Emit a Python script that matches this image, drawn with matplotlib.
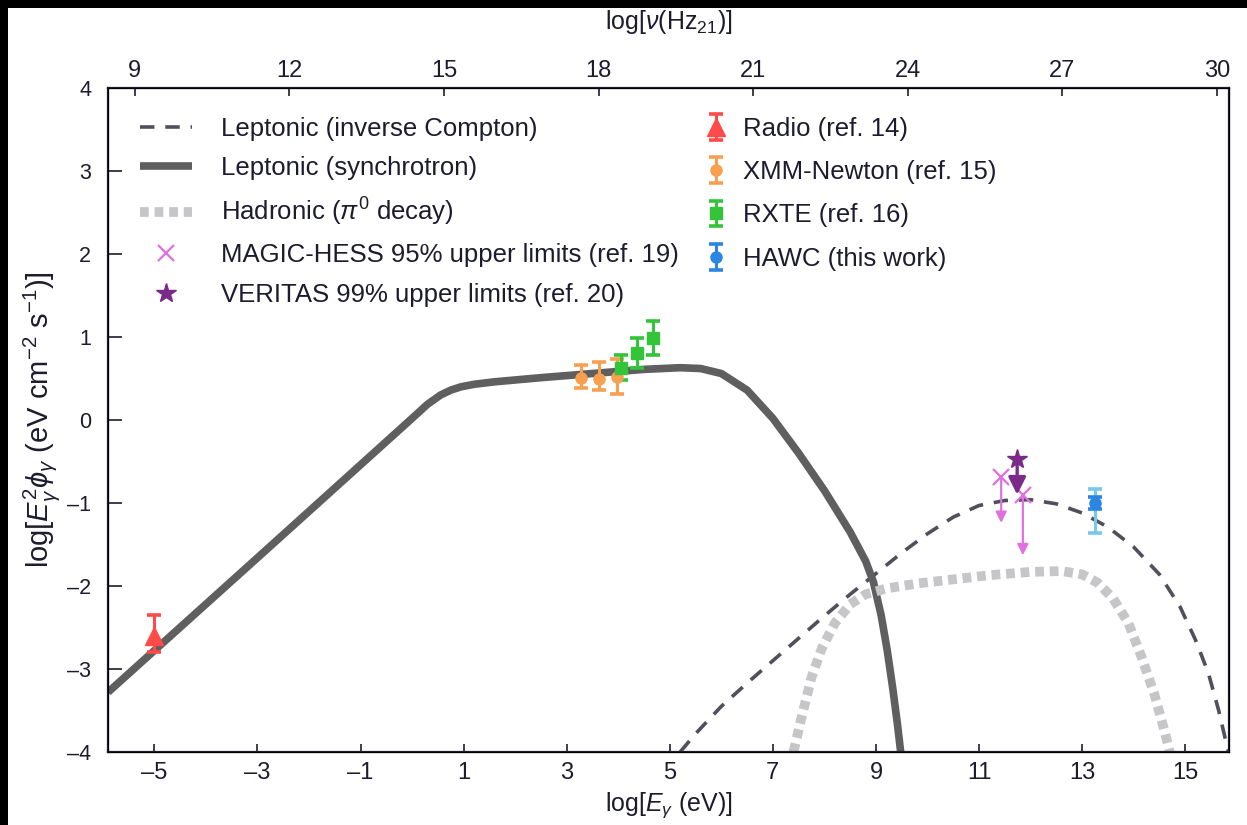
import matplotlib.pyplot as plt
from matplotlib.patches import Rectangle

plt.rcParams['font.family'] = ['Liberation Sans', 'DejaVu Sans']
plt.rcParams['mathtext.fontset'] = 'custom'
plt.rcParams['mathtext.rm'] = 'Liberation Sans'
plt.rcParams['mathtext.it'] = 'Liberation Sans:italic'

# --- modelos ---
sync_x = [-5.9, -3.0, 0.0, 0.3, 0.55, 0.75, 0.95, 1.2, 1.6, 2.5, 3.5, 4.5, 5.2, 5.6, 6.0, 6.5,
          7.0, 7.5, 8.0, 8.5, 8.8, 8.95, 9.1, 9.22, 9.33, 9.42, 9.48]
sync_y = [-3.28, -1.66, 0.02, 0.19, 0.30, 0.36, 0.40, 0.43, 0.46, 0.51, 0.56, 0.61, 0.63, 0.62,
          0.56, 0.36, 0.02, -0.40, -0.85, -1.35, -1.70, -1.95, -2.35, -2.78, -3.25, -3.68, -4.0]

ic_x = [5.2, 5.5, 6.0, 6.5, 7.0, 7.5, 8.0, 8.5, 9.0, 9.5, 10.0, 10.5, 11.0, 11.5, 12.0, 12.5,
        13.0, 13.5, 14.0, 14.5, 14.9, 15.2, 15.45, 15.65, 15.8, 15.86]
ic_y = [-4.0, -3.78, -3.45, -3.17, -2.90, -2.63, -2.36, -2.10, -1.85, -1.60, -1.37, -1.17,
        -1.03, -0.97, -0.96, -1.01, -1.12, -1.29, -1.53, -1.86, -2.25, -2.65, -3.05, -3.50,
        -3.90, -4.05]

had_x = [7.4, 7.55, 7.75, 7.95, 8.2, 8.5, 8.8, 9.2, 9.8, 10.5, 11.2, 12.0, 12.6, 13.0, 13.3,
         13.6, 13.9, 14.15, 14.4, 14.6, 14.7]
had_y = [-4.0, -3.6, -3.1, -2.75, -2.45, -2.22, -2.10, -2.03, -1.97, -1.92, -1.87, -1.83,
         -1.82, -1.86, -1.96, -2.15, -2.45, -2.85, -3.30, -3.75, -4.0]

# --- datos ---
radio_x = [-5.0]
radio_y = [-2.6]
radio_err = [[0.2], [0.25]]

xmm_x = [3.27, 3.62, 3.97]
xmm_y = [0.51, 0.50, 0.52]
xmm_err = [[0.12, 0.14, 0.21], [0.15, 0.20, 0.21]]

rxte_x = [4.05, 4.36, 4.67]
rxte_y = [0.63, 0.81, 0.99]
rxte_err = [[0.15, 0.18, 0.21], [0.15, 0.18, 0.20]]

hawc_x = [13.25]
hawc_y = [-1.0]
hawc_err_stat = [[0.07], [0.07]]
hawc_err_sys = [[0.36], [0.17]]

magic_x = [11.43, 11.85]
magic_y = [-0.69, -0.90]
magic_dy = [0.55, 0.73]

veritas_x = [11.74]
veritas_y = [-0.47]
veritas_dy = [0.43]

bottom_ticks = list(range(-5, 16, 2))
top_ticks = list(range(9, 31, 3))
y_ticks = list(range(-4, 5))
nu_offset = 14.383  # log(nu) = log(E/eV) + log(1/h)

ink = '#1c1c2e'

fig = plt.figure(figsize=(12.47, 8.25), dpi=100)
fig.patch.set_facecolor('black')
fig.patches.append(Rectangle((8 / 1247, 0), 1, 1 - 8 / 825, transform=fig.transFigure,
                             facecolor='white', edgecolor='none', zorder=-5))
ax = fig.add_axes([108 / 1247, 1 - 752 / 825, 1121 / 1247, 664 / 825])

l_ic, = ax.plot(ic_x, ic_y, color='#50505c', lw=2.6, dashes=(4, 3),
                label='Leptonic (inverse Compton)')
l_sync, = ax.plot(sync_x, sync_y, color='#5f5f5f', lw=5.5, solid_capstyle='butt',
                  solid_joinstyle='round', label='Leptonic (synchrotron)')
l_had, = ax.plot(had_x, had_y, color='#c6c6c8', lw=7, dashes=(0.9, 0.6),
                 label=r'Hadronic ($\pi^0$ decay)')

# limites superiores
for x, y, dy in zip(magic_x, magic_y, magic_dy):
    ax.annotate('', xy=(x, y - dy), xytext=(x, y),
                arrowprops=dict(arrowstyle='-|>', color='#e070e0', lw=1.6,
                                mutation_scale=16, shrinkA=0, shrinkB=0))
for x, y, dy in zip(veritas_x, veritas_y, veritas_dy):
    ax.annotate('', xy=(x, y - dy), xytext=(x, y),
                arrowprops=dict(arrowstyle='-|>', color='#7a2a88', lw=2.4,
                                mutation_scale=26, shrinkA=0, shrinkB=0))
h_magic, = ax.plot(magic_x, magic_y, 'x', color='#e070e0', ms=11, mew=1.6, ls='none',
                   label='MAGIC-HESS 95% upper limits (ref. 19)')
h_ver, = ax.plot(veritas_x, veritas_y, '*', color='#7a2a88', ms=15, ls='none',
                 label='VERITAS 99% upper limits (ref. 20)')

eb = dict(ls='none', elinewidth=2.2, capsize=5, capthick=2.6)
h_radio = ax.errorbar(radio_x, radio_y, yerr=radio_err, fmt='^', color='#ff4a4a', ms=13,
                      label='Radio (ref. 14)', **eb)
h_xmm = ax.errorbar(xmm_x, xmm_y, yerr=xmm_err, fmt='o', color='#f8a050', ms=8,
                    label='XMM-Newton (ref. 15)', **eb)
h_rxte = ax.errorbar(rxte_x, rxte_y, yerr=rxte_err, fmt='s', color='#33c43a', ms=9,
                     label='RXTE (ref. 16)', **eb)
ax.errorbar(hawc_x, hawc_y, yerr=hawc_err_sys, fmt='none', ecolor='#78c8ee',
            elinewidth=2.2, capsize=5, capthick=2.6)
h_hawc = ax.errorbar(hawc_x, hawc_y, yerr=hawc_err_stat, fmt='o', color='#2a86e0', ms=8,
                     label='HAWC (this work)', **eb)

ax.set_xlim(-5.9, 15.85)
ax.set_ylim(-4, 4)
ax.set_xticks(bottom_ticks)
ax.set_xticklabels([str(t).replace('-', '\u2013') for t in bottom_ticks], fontsize=17)
ax.set_yticks(y_ticks)
ax.set_yticklabels([str(t).replace('-', '\u2013') for t in y_ticks], fontsize=15.5)
ax.tick_params(direction='in', length=6, width=1.2, colors=ink, pad=7)
ax.tick_params(axis='y', length=10, pad=12)
for s in ax.spines.values():
    s.set_color(ink)
    s.set_linewidth(1.6)

ax2 = ax.twiny()
ax2.set_xlim(ax.get_xlim())
ax2.set_xticks([t - nu_offset for t in top_ticks])
ax2.set_xticklabels([str(t) for t in top_ticks], fontsize=17)
ax2.tick_params(direction='in', length=6, width=1.2, colors=ink, pad=4)

ax.set_xlabel(r'log[$E_\gamma$ (eV)]', fontsize=18, color=ink, labelpad=5)
ax.set_ylabel(r'log[$E_\gamma^2\phi_\gamma$ (eV cm$^{-2}$ s$^{-1}$)]', fontsize=21,
              color=ink, labelpad=4)
ax2.set_xlabel(r'log[$\nu$(Hz$_{21}$)]', fontsize=18, color=ink, labelpad=23)

leg1 = ax.legend(handles=[l_ic, l_sync, l_had, h_magic, h_ver], loc='upper left',
                 bbox_to_anchor=(0.0196, 0.972), borderaxespad=0, frameon=False,
                 fontsize=18.5, handlelength=2.0, labelspacing=0.6, handletextpad=1.15,
                 labelcolor=ink)
ax.add_artist(leg1)
ax.legend(handles=[h_radio, h_xmm, h_rxte, h_hawc], loc='upper left',
          bbox_to_anchor=(0.523, 0.972), borderaxespad=0, frameon=False, fontsize=18.5,
          handlelength=0.9, labelspacing=0.75, handletextpad=0.6, labelcolor=ink)

fig.savefig('out.png', dpi=100)
